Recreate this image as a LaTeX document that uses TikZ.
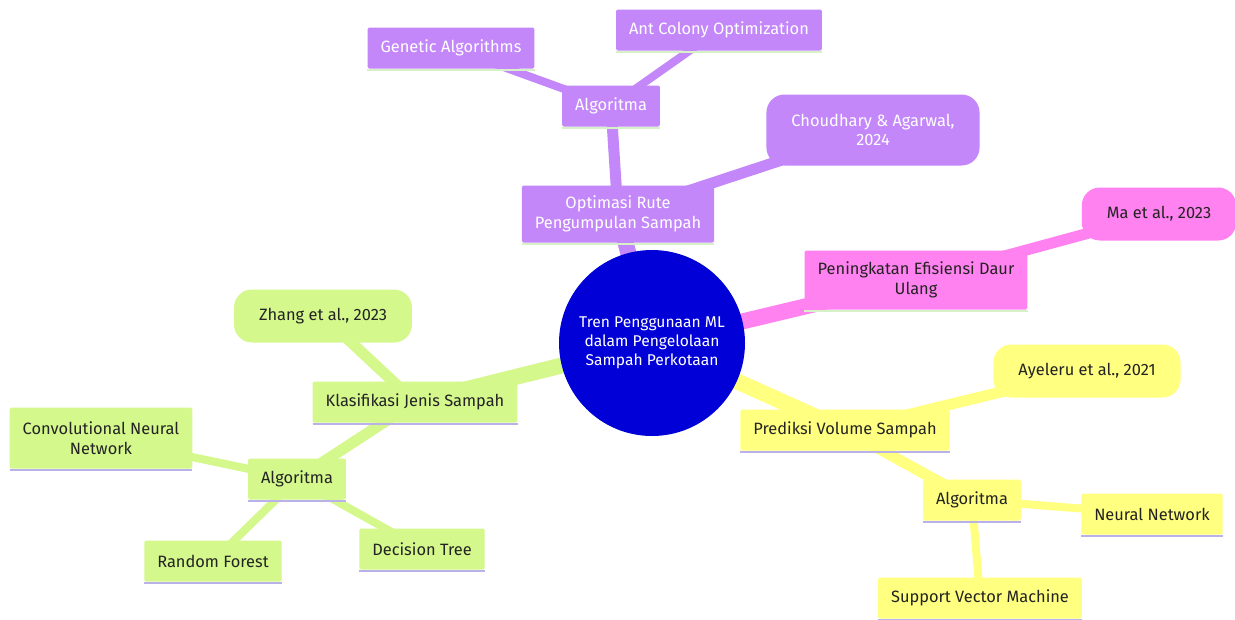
\documentclass[tikz,border=0pt]{standalone}
\usepackage{fontspec}
\setmainfont{Fira Sans}
\definecolor{rootblue}{RGB}{0,0,215}
\definecolor{mmpurple}{RGB}{195,135,250}
\definecolor{mmpink}{RGB}{255,130,240}
\definecolor{mmgreen}{RGB}{212,248,140}
\definecolor{mmyellow}{RGB}{255,255,128}
\definecolor{lavline}{RGB}{185,178,232}
\definecolor{mintline}{RGB}{214,240,200}
\definecolor{inkdark}{RGB}{35,35,35}
\pgfdeclarelayer{bg}
\pgfsetlayers{bg,main}

\begin{document}
\begin{tikzpicture}[x=1pt,y=-1pt]
    \tikzstyle{every node}+=[font=\fontsize{16.4}{19.5}\selectfont, align=center, inner xsep=13pt, inner ysep=4pt]
    \tikzstyle{leafbox}=[rectangle, rounded corners=1.5pt, minimum height=41pt]
    \tikzstyle{citebox}=[rectangle, rounded corners=18pt, minimum height=53pt, inner xsep=25pt]
    \tikzstyle{purplebox}=[fill=mmpurple, text=white]
    \tikzstyle{pinkbox}=[fill=mmpink, text=inkdark]
    \tikzstyle{greenbox}=[fill=mmgreen, text=inkdark]
    \tikzstyle{yellowbox}=[fill=mmyellow, text=inkdark]
    \tikzstyle{mainlink}=[line width=16pt]
    \tikzstyle{sublink}=[line width=11pt]
    \tikzstyle{leaflink}=[line width=8pt]
    \useasboundingbox (0,0) rectangle (1235,619);

    \node [circle, fill=rootblue, text=white, minimum size=186pt, inner sep=0pt, font=\fontsize{15.6}{19}\selectfont] (root) at (652,343) {Tren Penggunaan ML\\dalam Pengelolaan\\Sampah Perkotaan};

    \node [leafbox, purplebox, minimum height=57pt] (optimasi) at (618,214) {Optimasi Rute\\Pengumpulan Sampah};
    \node [leafbox, purplebox] (algoP) at (611,106) {Algoritma};
    \node [leafbox, purplebox] (genetic) at (451,48) {Genetic Algorithms};
    \node [leafbox, purplebox] (antcolony) at (719,30) {Ant Colony Optimization};
    \node [citebox, purplebox, minimum height=71pt] (choudhary) at (873,130) {Choudhary \& Agarwal,\\2024};

    \node [leafbox, pinkbox, minimum height=59pt] (daurulang) at (916,280) {Peningkatan Efisiensi Daur\\Ulang};
    \node [citebox, pinkbox] (ma) at (1159,214) {Ma et al., 2023};

    \node [leafbox, greenbox] (klasifikasi) at (415,402) {Klasifikasi Jenis Sampah};
    \node [citebox, greenbox] (zhang) at (323,316) {Zhang et al., 2023};
    \node [leafbox, greenbox] (algoG) at (297,479) {Algoritma};
    \node [leafbox, greenbox, minimum height=61pt] (cnn) at (101,438) {Convolutional Neural\\Network};
    \node [leafbox, greenbox] (randomforest) at (213,561) {Random Forest};
    \node [leafbox, greenbox] (decisiontree) at (422,549) {Decision Tree};

    \node [leafbox, yellowbox] (prediksi) at (845,430) {Prediksi Volume Sampah};
    \node [citebox, yellowbox] (ayeleru) at (1087,371) {Ayeleru et al., 2021};
    \node [leafbox, yellowbox] (algoY) at (972,500) {Algoritma};
    \node [leafbox, yellowbox] (neuralnet) at (1152,514) {Neural Network};
    \node [leafbox, yellowbox] (svm) at (980,598) {Support Vector Machine};

    \begin{pgfonlayer}{bg}
    \fill [white] (0,0) rectangle (1235,619);
    \draw [mmpurple, mainlink] (root.center) -- (optimasi.center);
    \draw [mmpurple, sublink] (optimasi.center) -- (algoP.center);
    \draw [mmpurple, sublink] (optimasi.center) -- (choudhary.center);
    \draw [mmpurple, leaflink] (algoP.center) -- (genetic.center);
    \draw [mmpurple, leaflink] (algoP.center) -- (antcolony.center);
    \draw [mmpink, mainlink] (root.center) -- (daurulang.center);
    \draw [mmpink, sublink] (daurulang.center) -- (ma.center);
    \draw [mmgreen, mainlink] (root.center) -- (klasifikasi.center);
    \draw [mmgreen, sublink] (klasifikasi.center) -- (zhang.center);
    \draw [mmgreen, sublink] (klasifikasi.center) -- (algoG.center);
    \draw [mmgreen, leaflink] (algoG.center) -- (cnn.center);
    \draw [mmgreen, leaflink] (algoG.center) -- (randomforest.center);
    \draw [mmgreen, leaflink] (algoG.center) -- (decisiontree.center);
    \draw [mmyellow, mainlink] (root.center) -- (prediksi.center);
    \draw [mmyellow, sublink] (prediksi.center) -- (ayeleru.center);
    \draw [mmyellow, sublink] (prediksi.center) -- (algoY.center);
    \draw [mmyellow, leaflink] (algoY.center) -- (neuralnet.center);
    \draw [mmyellow, leaflink] (algoY.center) -- (svm.center);
    \end{pgfonlayer}

    \foreach \n in {optimasi, algoP, genetic, antcolony, daurulang}
        \draw [mintline, line width=2pt] ([yshift=-1pt]\n.south west) -- ([yshift=-1pt]\n.south east);
    \foreach \n in {klasifikasi, algoG, cnn, randomforest, decisiontree, prediksi, algoY, neuralnet, svm}
        \draw [lavline, line width=2pt] ([yshift=-1pt]\n.south west) -- ([yshift=-1pt]\n.south east);
\end{tikzpicture}
\end{document}
